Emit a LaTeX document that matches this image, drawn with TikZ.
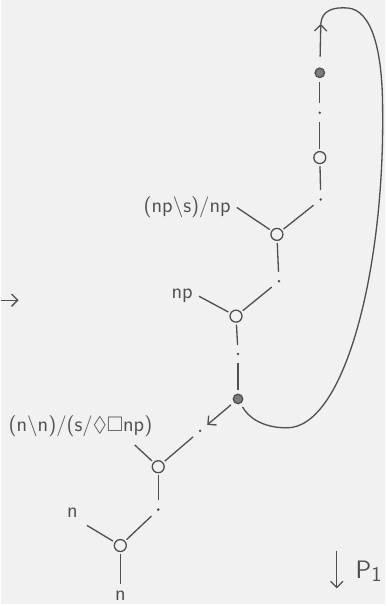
\documentclass[tikz,border=0pt]{standalone}
\usepackage{amssymb}
\usepackage{tikz}
\usetikzlibrary{positioning,arrows.meta,calc}
\definecolor{pencil}{HTML}{505050}
\definecolor{paper}{HTML}{F1F1F1}

\begin{document}
\begin{tikzpicture}[x=0.02cm,y=-0.02cm,
    every node/.style={font=\large\sffamily, text=pencil},
    lnk/.style={draw=pencil, circle, line width=0.75pt, inner sep=0pt, minimum size=2.4mm, outer sep=1.5pt},
    dotv/.style={circle, fill=pencil, inner sep=0pt, minimum size=1.6pt, outer sep=4.5pt},
    hub/.style={draw=pencil, circle, fill=pencil!75, line width=0.75pt, inner sep=0pt, minimum size=1.9mm, outer sep=2.5pt},
    wire/.style={draw=pencil, line width=0.75pt},
    barb/.style={wire, -{Straight Barb[length=3.5pt,width=7pt]}}]
      \fill[paper] (0,0) rectangle (385,606);
      % right-hand column
      \node[hub]  (hubtop) at (320,73) {};
      \node[dotv] (dt1)    at (320,113) {};
      \node[lnk]  (lk1)    at (320,158) {};
      \node[dotv] (dt2)    at (321,200) {};
      \node[lnk]  (lk2)    at (277,235) {};
      \node[dotv] (dt3)    at (279,282) {};
      \node[lnk]  (lk3)    at (236,317) {};
      \node[dotv] (dt4)    at (238,355) {};
      \node[hub]  (hubbot) at (238,400) {};
      \node[dotv] (dt5)    at (200,432) {};
      \node[lnk]  (lk4)    at (158,468) {};
      \node[dotv] (dt6)    at (158,511) {};
      \node[lnk]  (lk5)    at (120,547) {};
      % types
      \node (tv)   at (187,208) {(np\textbackslash s)/np};
      \node (tnp)  at (182,297) {np};
      \node (trel) at (80,427) {(n\textbackslash n)/(s/$\Diamond\Box$np)};
      \node (tn)   at (72,514) {n};
      \node (tgoal) at (120,597) {n};
      \draw[wire] (hubtop) -- (dt1);
      \draw[wire] (dt1) -- (lk1);
      \draw[wire] (lk1) -- (dt2);
      \draw[wire] (dt2) -- (lk2);
      \draw[wire] (tv.east) -- (lk2);
      \draw[wire] (lk2) -- (dt3);
      \draw[wire] (dt3) -- (lk3);
      \draw[wire] (tnp.east) -- (lk3);
      \draw[wire] (lk3) -- (dt4);
      \draw[wire] (dt4) -- (hubbot);
      \draw[barb] (hubbot) -- (dt5);
      \draw[wire] (dt5) -- (lk4);
      \draw[wire, shorten <=2pt] ([xshift=-15pt]trel.south east) -- (lk4);
      \draw[wire] (lk4) -- (dt6);
      \draw[wire] (dt6) -- (lk5);
      \draw[wire, shorten <=2pt] (tn.south east) -- (lk5);
      \draw[wire] (lk5) -- (tgoal);
      % loop back to the top
      \coordinate (tip) at (321,24);
      \draw[barb, shorten <=4pt] (hubtop) -- (tip);
      \draw[wire] (tip) .. controls (322,10) and (334,7) .. (348,8)
        .. controls (372,10) and (383,50) .. (383,110)
        .. controls (385,270) and (345,429) .. (287,429)
        .. controls (262,429) and (248,418) .. (hubbot);
      % marginal arrows
      \coordinate (lin) at (0,301);
      \coordinate (lout) at (18,301);
      \draw[barb] (lin) -- (lout);
      \coordinate (ptop) at (337,552);
      \coordinate (pbot) at (337,590);
      \draw[barb] (ptop) -- (pbot);
      \node[font=\Large\sffamily] (pone) at (369,573) {P\raisebox{-2pt}{\large 1}};
\end{tikzpicture}
\end{document}
